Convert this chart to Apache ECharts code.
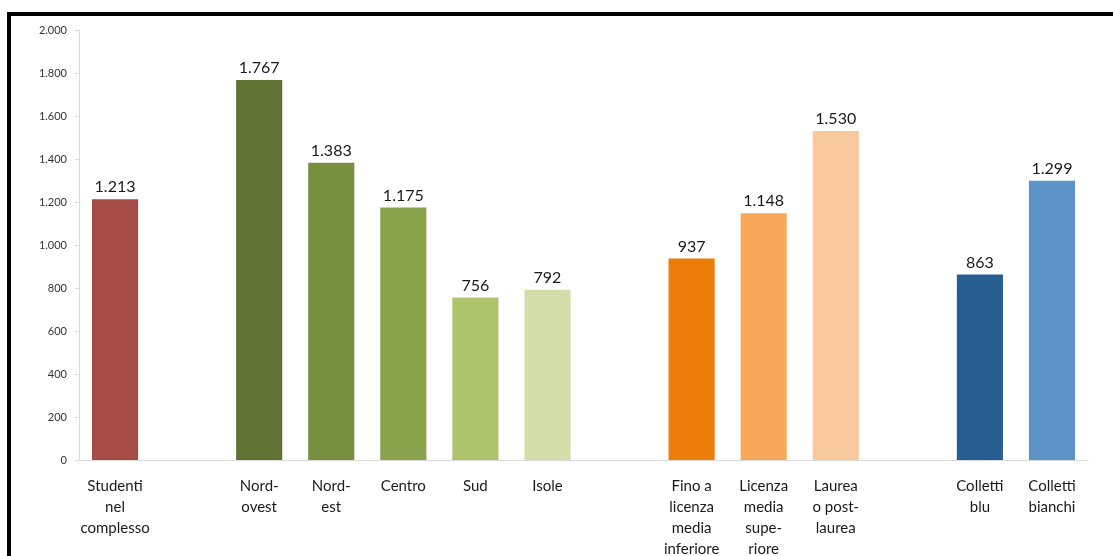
<!DOCTYPE html>
<html>
<head>
<meta charset="utf-8">
<script src="https://cdn.jsdelivr.net/npm/echarts@6/dist/echarts.min.js"></script>
<style>html,body{margin:0;padding:0;background:#fff;}#c{width:1113px;height:556px;}</style>
</head>
<body>
<div id="c"></div>
<script>
const categories = ['Studenti\nnel\ncomplesso', '', 'Nord-\novest', 'Nord-\nest', 'Centro', 'Sud', 'Isole', '', 'Fino a\nlicenza\nmedia\ninferiore', 'Licenza\nmedia\nsupe-\nriore', 'Laurea\no post-\nlaurea', '', 'Colletti\nblu', 'Colletti\nbianchi'];
const values = [1213, null, 1767, 1383, 1175, 756, 792, null, 937, 1148, 1530, null, 863, 1299];
const colors = ['#a54a44', null, '#5f7233', '#76903f', '#89a34c', '#adc46c', '#d3deab', null, '#ec7d0a', '#f7a85a', '#f9c99e', null, '#265e8f', '#5d94c8'];
const yTicks = [0, 200, 400, 600, 800, 1000, 1200, 1400, 1600, 1800, 2000];

function fmt(v) {
  return String(v).replace(/\B(?=(\d{3})+(?!\d))/g, '.');
}

const chart = echarts.init(document.getElementById('c'), null, {renderer: 'canvas'});
chart.setOption({
  animation: false,
  backgroundColor: '#ffffff',
  textStyle: {fontFamily: 'Lato'},
  grid: {left: 79, right: 25, top: 30, bottom: 96, containLabel: false, outerBoundsMode: 'none'},
  xAxis: {
    type: 'category',
    data: categories,
    axisLine: {lineStyle: {color: '#d9d9d9', width: 1}},
    axisTick: {show: false},
    axisLabel: {interval: 0, color: '#1a1a1a', fontSize: 15, lineHeight: 21, margin: 16, fontFamily: 'Lato'}
  },
  yAxis: {
    type: 'value',
    min: yTicks[0],
    max: yTicks[yTicks.length - 1],
    interval: 200,
    splitLine: {show: false},
    axisLine: {show: true, lineStyle: {color: '#d9d9d9', width: 1}},
    axisTick: {show: true, length: 4, lineStyle: {color: '#d9d9d9'}},
    axisLabel: {color: '#333', fontSize: 11, margin: 12, formatter: v => fmt(v), fontFamily: 'Lato'}
  },
  series: [{
    type: 'bar',
    barWidth: '64%',
    data: values.map((v, i) => v == null ? '-' : {value: v, itemStyle: {color: colors[i]}}),
    label: {
      show: true,
      position: 'top',
      distance: 4,
      color: '#1a1a1a',
      fontSize: 16,
      fontFamily: 'Lato',
      formatter: p => fmt(p.value)
    }
  }],
  graphic: [
    {type: 'rect', shape: {x: 7, y: 12, width: 1106, height: 4}, style: {fill: '#000'}},
    {type: 'rect', shape: {x: 7, y: 12, width: 4, height: 544}, style: {fill: '#000'}}
  ]
});
</script>
</body>
</html>
